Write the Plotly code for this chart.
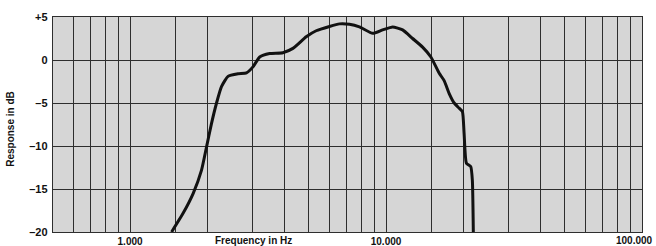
import math
import plotly.graph_objects as go

# Frequency response data (Hz, dB)
freq_hz = [1453, 1613, 1765, 1902, 1990, 2080, 2177, 2276, 2414, 2642, 2849, 3021,
           3210, 3510, 3955, 4327, 4877, 5335, 6013, 6580, 7195, 7870, 8875, 9705,
           10610, 11610, 12700, 13890, 14970, 16140, 16870, 17650, 18460, 19300,
           19880, 20180, 20610, 21430, 21740, 21930]
response_db = [-20, -17.8, -15.5, -12.8, -10.1, -7.4, -5.0, -3.1, -1.9, -1.6, -1.5, -0.8,
               0.35, 0.75, 0.85, 1.35, 2.7, 3.4, 3.9, 4.2, 4.15, 3.85, 3.1, 3.5,
               3.85, 3.5, 2.5, 1.5, 0.35, -1.55, -2.4, -3.9, -5.0, -5.6,
               -6.0, -8.5, -12.0, -12.4, -14.0, -20]

# Grid / tick definitions
x_grid = [600, 700, 800, 900, 1000, 1500, 2000, 3000, 4000, 5000, 6000, 7000, 8000,
          9000, 10000, 15000, 20000, 30000, 40000, 50000, 60000, 70000, 80000, 90000, 100000]
x_labels = {1000: "1.000", 10000: "10.000"}
x_edge_label = (100000, "100.000")
y_ticks = [5, 0, -5, -10, -15, -20]
y_tick_text = ["+5", "0", "–5", "–10", "–15", "–20"]

font_family = "Liberation Sans, Arial"
fig = go.Figure()
fig.add_trace(go.Scatter(
    x=freq_hz, y=response_db, mode="lines",
    line=dict(color="#111111", width=3, shape="spline", smoothing=0.5),
    hoverinfo="skip", showlegend=False,
))

grid_color = "#2e2e2e"
fig.update_xaxes(
    type="log", range=[math.log10(500), math.log10(100000)],
    tickmode="array", tickvals=x_grid,
    ticktext=[x_labels.get(v, "") for v in x_grid],
    showgrid=True, gridcolor=grid_color, gridwidth=1.4,
    showline=True, linecolor=grid_color, linewidth=1.4, mirror=True,
    ticks="", ticklen=0, automargin=False,
    tickfont=dict(family=font_family, size=10, color="#111", weight="bold"),
    zeroline=False,
)
fig.update_yaxes(
    range=[-20, 5], tickmode="array", tickvals=y_ticks, ticktext=y_tick_text,
    showgrid=True, gridcolor=grid_color, gridwidth=1.4,
    showline=True, linecolor=grid_color, linewidth=1.4, mirror=True,
    ticks="", ticklabelstandoff=2, automargin=False,
    tickfont=dict(family=font_family, size=11, color="#111", weight="bold"),
    zeroline=False,
)

fig.add_annotation(
    x=math.log10(x_edge_label[0]), xref="x", y=0, yref="paper",
    text=x_edge_label[1], showarrow=False, xanchor="right", yanchor="top",
    xshift=13, yshift=-1,
    font=dict(family=font_family, size=10, color="#111", weight="bold"),
)
fig.add_annotation(
    x=0.34, xref="paper", y=0, yref="paper", text="Frequency in Hz",
    showarrow=False, xanchor="center", yanchor="top", yshift=-1,
    font=dict(family=font_family, size=10, color="#111", weight="bold"),
)
fig.add_annotation(
    x=0, xref="paper", y=0.48, yref="paper", text="Response in dB",
    showarrow=False, textangle=-90, xanchor="center", yanchor="middle", xshift=-42,
    font=dict(family=font_family, size=10, color="#111", weight="bold"),
)

fig.update_layout(
    width=656, height=246,
    margin=dict(l=53, r=14, t=17, b=14),
    paper_bgcolor="white", plot_bgcolor="#d6d6d6",
)
fig.write_html("out.html", config={"displayModeBar": False},
               post_script="document.body.style.margin='0px';")
